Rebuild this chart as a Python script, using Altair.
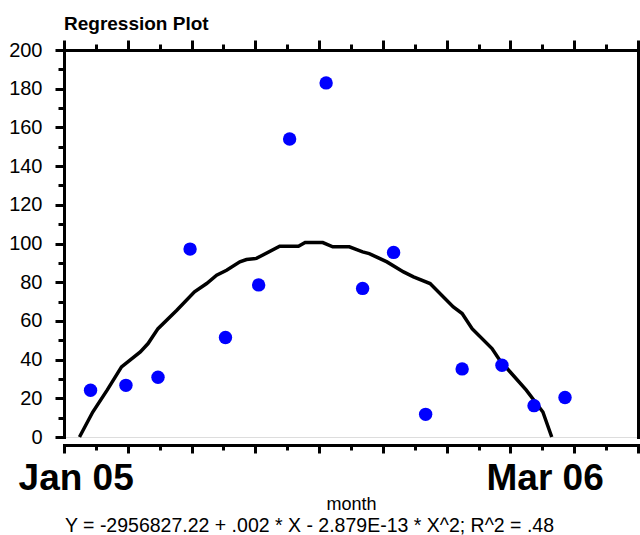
import altair as alt
import pandas as pd

# ---- data ----
point_dates = ["2005-01-14", "2005-02-15", "2005-03-16", "2005-04-14", "2005-05-16",
               "2005-06-15", "2005-07-13", "2005-08-15", "2005-09-17", "2005-10-15",
               "2005-11-13", "2005-12-16", "2006-01-21", "2006-02-19", "2006-03-19"]
point_values = [24.2, 26.7, 30.9, 97.1, 51.4, 78.6, 154, 183, 76.8, 95.4,
                11.7, 35.2, 37.1, 16.2, 20.4]

fit_dates = ["2005-01-04", "2005-01-16", "2005-01-29", "2005-02-11", "2005-02-28",
             "2005-03-07", "2005-03-16", "2005-04-02", "2005-04-18", "2005-04-29",
             "2005-05-08", "2005-05-17", "2005-05-29", "2005-06-04", "2005-06-13",
             "2005-07-04", "2005-07-21", "2005-07-27", "2005-08-12", "2005-08-21",
             "2005-09-05", "2005-09-17", "2005-09-23", "2005-10-09", "2005-10-24",
             "2005-11-02", "2005-11-17", "2005-12-08", "2005-12-16", "2005-12-25",
             "2006-01-12", "2006-01-19", "2006-02-12", "2006-02-27", "2006-03-07"]
fit_values = [0, 12.9, 24.2, 36.2, 44, 48.3, 56, 65.5, 75, 79.3,
              83.6, 86.2, 90.5, 91.7, 92.3, 98.6, 98.6, 100.5, 100.5, 98.3,
              98.3, 95.7, 94.8, 90.5, 85.3, 82.8, 79.3, 67.2, 63.8, 56,
              45.7, 39.7, 24.2, 12.9, 0]

label_dates = ["2005-01-01", "2006-03-01"]
label_texts = ["Jan 05", "Mar 06"]

y_ticks = list(range(0, 201, 10))
equation = "Y = -2956827.22 + .002 * X - 2.879E-13 * X^2; R^2 = .48"

points = pd.DataFrame({"month": point_dates, "value": point_values})
fit = pd.DataFrame({"month": fit_dates, "value": fit_values})
labels = pd.DataFrame({"month": label_dates, "label": label_texts})
eq_df = pd.DataFrame({"eq": [equation]})

# ---- scales / axes ----
W, H = 574, 387
FONT = "Liberation Sans"
start_ms = int(pd.Timestamp("2004-12-21").value // 10**6)
end_ms = int(pd.Timestamp("2006-05-24").value // 10**6)
step_ms = (end_ms - start_ms) / 18
x_ticks = [start_ms + k * step_ms for k in range(19)]
even_test = f"round((datum.value - {start_ms}) / {step_ms}) % 2 === 0"

x_scale = alt.Scale(domain=[start_ms, end_ms])
y_scale = alt.Scale(domain=[0, 200], nice=False, zero=True)

common_axis = dict(domainColor="black", tickColor="black", domainWidth=3, tickWidth=3,
                   grid=False, labelColor="black", labelFont=FONT, titleFont=FONT,
                   titleColor="black", domainCap="square")

x_bottom = alt.Axis(orient="bottom", values=x_ticks, labels=False, offset=8,
                    tickSize={"condition": {"test": even_test, "value": 8}, "value": 5},
                    title="month", titleFontSize=18, titleFontWeight="normal",
                    titleBaseline="alphabetic", titleY=64, **common_axis)
x_top = alt.Axis(orient="top", values=x_ticks, labels=False, title=None,
                 tickSize={"condition": {"test": even_test, "value": 10}, "value": 6},
                 **common_axis)
y_left = alt.Axis(orient="left", values=y_ticks,
                  labelExpr="datum.value % 20 === 0 ? datum.label : ''",
                  tickSize={"condition": {"test": "datum.value % 20 === 0", "value": 9}, "value": 6},
                  labelFontSize=20, labelPadding=13, title=None, **common_axis)
y_right = alt.Axis(orient="right", ticks=False, labels=False, title=None, **common_axis)

curve = alt.Chart(fit).mark_line(color="black", strokeWidth=3.5, interpolate="linear").encode(
    x=alt.X("month:T", scale=x_scale, axis=x_top),
    y=alt.Y("value:Q", scale=y_scale, axis=y_right),
)

dots = alt.Chart(points).mark_circle(color="#0000FF", opacity=1, size=180).encode(
    x=alt.X("month:T", scale=x_scale, axis=x_bottom),
    y=alt.Y("value:Q", scale=y_scale, axis=y_left),
)

month_labels = alt.Chart(labels).mark_text(
    font=FONT, fontSize=37, fontWeight="bold", align="center", baseline="alphabetic", color="black"
).encode(
    x=alt.X("month:T", scale=x_scale, axis=None),
    y=alt.value(H + 53),
    text="label:N",
)

eq_text = alt.Chart(eq_df).mark_text(
    font=FONT, fontSize=19.5, align="left", baseline="alphabetic", color="black"
).encode(
    x=alt.value(1),
    y=alt.value(H + 95),
    text="eq:N",
)

chart = alt.layer(curve, dots, month_labels, eq_text).resolve_axis(
    x="independent", y="independent"
).properties(
    width=W,
    height=H,
    title=alt.TitleParams("Regression Plot", anchor="start", frame="group", font=FONT,
                          fontSize=19, fontWeight="bold", color="black",
                          baseline="alphabetic", offset=-10),
    autosize=alt.AutoSizeParams(type="none"),
    padding={"left": 64, "top": 50, "right": 2, "bottom": 98},
).configure_view(stroke=None).configure(background="white")

chart.save("out.html", embed_options={"renderer": "svg", "actions": False})
